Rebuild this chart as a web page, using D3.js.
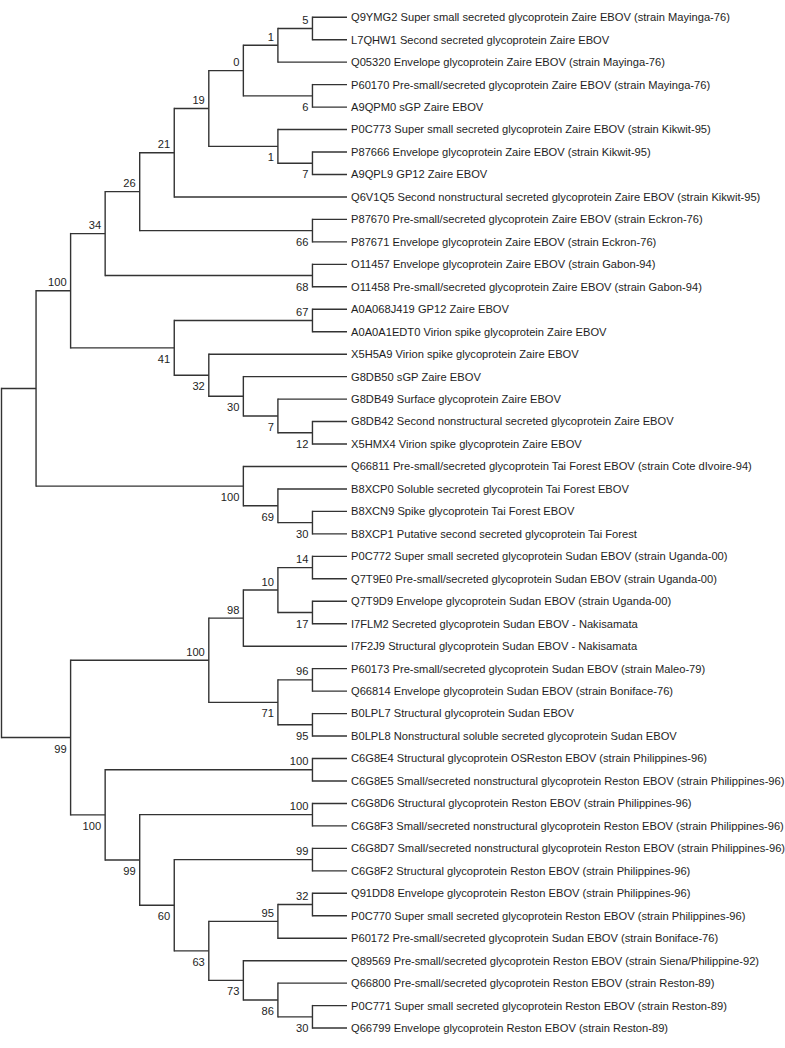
<!DOCTYPE html>
<html lang="en">
<head>
<meta charset="utf-8">
<title>Ebola glycoprotein tree</title>
<script src="https://cdn.jsdelivr.net/npm/d3@7"></script>
<style>
  body { margin: 0; background: #fff; }
  text { font-family: "Liberation Sans", Arial, sans-serif; font-size: 11.15px; fill: #1e1e1e; }
</style>
</head>
<body>
<script>
// leaf labels, top to bottom
var leafNames = [
  "Q9YMG2 Super small secreted glycoprotein Zaire EBOV (strain Mayinga-76)",
  "L7QHW1 Second secreted glycoprotein Zaire EBOV",
  "Q05320 Envelope glycoprotein Zaire EBOV (strain Mayinga-76)",
  "P60170 Pre-small/secreted glycoprotein Zaire EBOV (strain Mayinga-76)",
  "A9QPM0 sGP Zaire EBOV",
  "P0C773 Super small secreted glycoprotein Zaire EBOV (strain Kikwit-95)",
  "P87666 Envelope glycoprotein Zaire EBOV (strain Kikwit-95)",
  "A9QPL9 GP12 Zaire EBOV",
  "Q6V1Q5 Second nonstructural secreted glycoprotein Zaire EBOV (strain Kikwit-95)",
  "P87670 Pre-small/secreted glycoprotein Zaire EBOV (strain Eckron-76)",
  "P87671 Envelope glycoprotein Zaire EBOV (strain Eckron-76)",
  "O11457 Envelope glycoprotein Zaire EBOV (strain Gabon-94)",
  "O11458 Pre-small/secreted glycoprotein Zaire EBOV (strain Gabon-94)",
  "A0A068J419 GP12 Zaire EBOV",
  "A0A0A1EDT0 Virion spike glycoprotein Zaire EBOV",
  "X5H5A9 Virion spike glycoprotein Zaire EBOV",
  "G8DB50 sGP Zaire EBOV",
  "G8DB49 Surface glycoprotein Zaire EBOV",
  "G8DB42 Second nonstructural secreted glycoprotein Zaire EBOV",
  "X5HMX4 Virion spike glycoprotein Zaire EBOV",
  "Q66811 Pre-small/secreted glycoprotein Tai Forest EBOV (strain Cote dIvoire-94)",
  "B8XCP0 Soluble secreted glycoprotein Tai Forest EBOV",
  "B8XCN9 Spike glycoprotein Tai Forest EBOV",
  "B8XCP1 Putative second secreted glycoprotein Tai Forest",
  "P0C772 Super small secreted glycoprotein Sudan EBOV (strain Uganda-00)",
  "Q7T9E0 Pre-small/secreted glycoprotein Sudan EBOV (strain Uganda-00)",
  "Q7T9D9 Envelope glycoprotein Sudan EBOV (strain Uganda-00)",
  "I7FLM2 Secreted glycoprotein Sudan EBOV - Nakisamata",
  "I7F2J9 Structural glycoprotein Sudan EBOV - Nakisamata",
  "P60173 Pre-small/secreted glycoprotein Sudan EBOV (strain Maleo-79)",
  "Q66814 Envelope glycoprotein Sudan EBOV (strain Boniface-76)",
  "B0LPL7 Structural glycoprotein Sudan EBOV",
  "B0LPL8 Nonstructural soluble secreted glycoprotein Sudan EBOV",
  "C6G8E4 Structural glycoprotein OSReston EBOV (strain Philippines-96)",
  "C6G8E5 Small/secreted nonstructural glycoprotein Reston EBOV (strain Philippines-96)",
  "C6G8D6 Structural glycoprotein Reston EBOV (strain Philippines-96)",
  "C6G8F3 Small/secreted nonstructural glycoprotein Reston EBOV (strain Philippines-96)",
  "C6G8D7 Small/secreted nonstructural glycoprotein Reston EBOV (strain Philippines-96)",
  "C6G8F2 Structural glycoprotein Reston EBOV (strain Philippines-96)",
  "Q91DD8 Envelope glycoprotein Reston EBOV (strain Philippines-96)",
  "P0C770 Super small secreted glycoprotein Reston EBOV (strain Philippines-96)",
  "P60172 Pre-small/secreted glycoprotein Sudan EBOV (strain Boniface-76)",
  "Q89569 Pre-small/secreted glycoprotein Reston EBOV (strain Siena/Philippine-92)",
  "Q66800 Pre-small/secreted glycoprotein Reston EBOV (strain Reston-89)",
  "P0C771 Super small secreted glycoprotein Reston EBOV (strain Reston-89)",
  "Q66799 Envelope glycoprotein Reston EBOV (strain Reston-89)"
];

// topology (newick, leaves given as index into leafNames, bootstrap after ")")
var zaireClade = "((((((((0,1)5,2)1,(3,4)6)0,(5,(6,7)7)1)19,8)21,(9,10)66)26,(11,12)68)34," +
                 "((13,14)67,(15,(16,(17,(18,19)12)7)30)32)41)100";
var taiClade = "(20,(21,(22,23)30)69)100";
var sudanClade = "((((24,25)14,(26,27)17)10,28)98,((29,30)96,(31,32)95)71)100";
var restonClade = "((33,34)100,((35,36)100,((37,38)99,(((39,40)32,41)95,(42,(43,(44,45)30)86)73)63)60)99)100";
var newick = "((" + zaireClade + "," + taiClade + "),(" + sudanClade + "," + restonClade + ")99)";

var w = 785, h = 1048;

function parseNewick(s) {
  var i = 0;
  function node() {
    var n = {};
    if (s[i] === "(") {
      i++;
      n.children = [node()];
      while (s[i] === ",") { i++; n.children.push(node()); }
      i++;
    }
    var tok = "";
    while (i < s.length && ",()".indexOf(s[i]) < 0) tok += s[i++];
    if (n.children) n.support = tok === "" ? null : tok;
    else n.name = leafNames[+tok];
    return n;
  }
  return node();
}

var root = d3.hierarchy(parseNewick(newick));
d3.cluster().size([1, 1]).separation(function() { return 1; })(root);

// cladogram: d.y is horizontal, d.x is vertical
var xScale = d3.scaleLinear().domain([0, 1]).range([1.5, 347]);
var yScale = d3.scaleLinear().domain([0, 1]).range([6, 1039.3]);

var svg = d3.select("body").append("svg")
  .attr("width", w)
  .attr("height", h);

var lines = svg.append("g")
  .attr("stroke", "#333")
  .attr("stroke-width", 1.4)
  .attr("fill", "none");

root.descendants().forEach(function(d) {
  if (d.children) {
    var first = d.children[0], last = d.children[d.children.length - 1];
    lines.append("line")
      .attr("x1", xScale(d.y)).attr("x2", xScale(d.y))
      .attr("y1", yScale(first.x)).attr("y2", yScale(last.x))
      .attr("stroke-linecap", "square");
    d.children.forEach(function(c) {
      lines.append("line")
        .attr("x1", xScale(d.y)).attr("x2", xScale(c.y))
        .attr("y1", yScale(c.x)).attr("y2", yScale(c.x));
    });
  }
});

// leaf labels
svg.append("g").selectAll("text")
  .data(root.leaves())
  .join("text")
  .attr("x", function(d) { return xScale(d.y) + 4; })
  .attr("y", function(d) { return yScale(d.x); })
  .attr("dy", "0.35em")
  .text(function(d) { return d.data.name; });

// bootstrap values: above the branch for first child, below for second
svg.append("g").selectAll("text")
  .data(root.descendants().filter(function(d) { return d.children && d.data.support != null; }))
  .join("text")
  .attr("text-anchor", "end")
  .attr("x", function(d) { return xScale(d.y) - 4; })
  .attr("y", function(d) {
    var isFirst = d.parent && d.parent.children[0] === d;
    return yScale(d.x) + (isFirst ? -4.5 : 15);
  })
  .text(function(d) { return d.data.support; });
</script>
</body>
</html>
